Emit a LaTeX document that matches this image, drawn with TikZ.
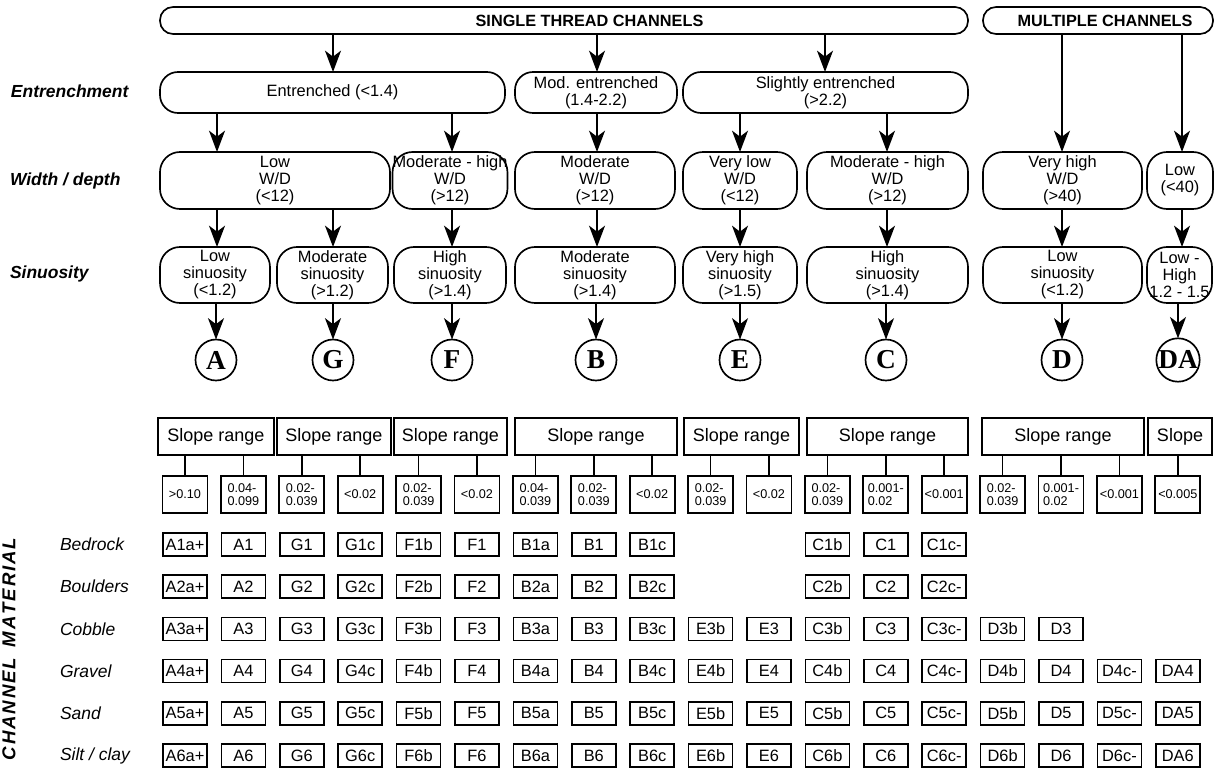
\documentclass[tikz,border=0pt]{standalone}
\usepackage{fontspec}
\setmainfont{Liberation Sans}
\newfontfamily\lserif{Liberation Serif}
\usetikzlibrary{arrows.meta}
\newdimen\px \px=0.75pt
\newcommand\ls{\kern1.4pt}
\newcommand\cellrow[2]{%
  \foreach \i/\txt in {#2}{%
    \node[cellbox] (c#1-\i) at ({185+58.4*\i},{544.5+42.2*(#1-1)}) {\txt};}}
\begin{document}
\begin{tikzpicture}[x=0.75pt,y=-0.75pt,
  every node/.style={inner sep=0pt,outer sep=0pt},
  lw/.style={line width=1.25pt},
  wh/.style 2 args={minimum width=#1\px,minimum height=#2\px},
  barbox/.style={draw,lw,rounded corners=13\px,minimum height=27\px},
  bartext/.style={font=\bfseries\fontsize{12.2pt}{13pt}\selectfont},
  fbox/.style={draw,lw,rounded corners=20\px,align=center,font=\fontsize{12.3pt}{12.75pt}\selectfont},
  circ/.style={draw,lw,circle,minimum size=41\px,font=\lserif\bfseries\fontsize{20.5pt}{20.5pt}\selectfont},
  slopebox/.style={draw,lw,minimum height=37\px,font=\fontsize{13.5pt}{14pt}\selectfont},
  valbox/.style={draw,lw,minimum width=45\px,minimum height=37\px,align=left,font=\fontsize{9.5pt}{9.4pt}\selectfont},
  cellbox/.style={draw,lw,minimum width=44\px,minimum height=23\px,font=\fontsize{12.3pt}{12.3pt}\selectfont},
  arr/.style={lw,-{Stealth[length=16pt,width=12pt,inset=4.5pt]}},
  conn/.style={lw},
  side/.style={anchor=west,font=\bfseries\itshape\fontsize{13.1pt}{14pt}\selectfont},
  mat/.style={anchor=west,font=\itshape\fontsize{13.1pt}{14pt}\selectfont}
]
\fill[white] (0,0) rectangle (1216,767);
\useasboundingbox (0,0) rectangle (1216,767);

% top bars
\node[barbox,minimum width=808\px] (single) at (564,20.5) {};
\node[bartext] (singletxt) at (589.5,20.5) {SINGLE THREAD CHANNELS};
\node[barbox,minimum width=230\px] (multi) at (1098,20.5) {};
\node[bartext] (multitxt) at (1105,20.5) {MULTIPLE CHANNELS};

% side labels
\node[side] (lab1) at (11,91) {Entrenchment};
\node[side] (lab2) at (10,181) {Width / depth};
\node[side] (lab3) at (10,274) {Sinuosity};

% entrenchment row
\node[fbox,rounded corners=18\px,wh={345}{41}] (ent) at (332.5,92.5) {Entrenched (<1.4)};
\node[fbox,rounded corners=18\px,wh={162}{41}] (mod) at (596,92.5) {Mod. entrenched\\(1.4-2.2)};
\node[fbox,rounded corners=18\px,wh={285}{41}] (sli) at (825.5,92.5) {Slightly entrenched\\(>2.2)};

% width/depth row
\node[fbox,wh={230}{57}] (wdA) at (275,180.5) {Low\\W/D\\(<12)};
\node[fbox,wh={110}{57}] (wdF) at (450,180.5) {Moderate - high\\W/D\\(>12)};
\node[fbox,wh={160}{57}] (wdB) at (595,180.5) {Moderate\\W/D\\(>12)};
\node[fbox,wh={114}{57}] (wdE) at (740,180.5) {Very low\\W/D\\(<12)};
\node[fbox,wh={161}{57}] (wdC) at (887.5,180.5) {Moderate - high\\W/D\\(>12)};
\node[fbox,wh={159}{57}] (wdD) at (1062.5,180.5) {Very high\\W/D\\(>40)};
\node[fbox,wh={66}{57}] (wdDA) at (1180,180.5) {Low\\(<40)};

% sinuosity row
\node[fbox,wh={110}{56}] (sA) at (215,275) {Low\\sinuosity\\(<1.2)};
\node[fbox,wh={111}{56}] (sG) at (332.5,275) {Moderate\\sinuosity\\(>1.2)};
\node[fbox,wh={112}{56}] (sF) at (450,275) {High\\sinuosity\\(>1.4)};
\node[fbox,wh={160}{56}] (sB) at (595,275) {Moderate\\sinuosity\\(>1.4)};
\node[fbox,wh={114}{56}] (sE) at (740,275) {Very high\\sinuosity\\(>1.5)};
\node[fbox,wh={161}{56}] (sC) at (887.5,275) {High\\sinuosity\\(>1.4)};
\node[fbox,wh={159}{56}] (sD) at (1062.5,275) {Low\\sinuosity\\(<1.2)};
\node[fbox,wh={65}{56}] (sDA) at (1179.5,275) {Low -\\High\\1.2 - 1.5};

% circles
\node[circ] (kA) at (216,360) {A};
\node[circ] (kG) at (333,360) {G};
\node[circ] (kF) at (452,360) {F};
\node[circ] (kB) at (596,360) {B};
\node[circ] (kE) at (740,360) {E};
\node[circ] (kC) at (886,360) {C};
\node[circ] (kD) at (1062,360) {D};
\node[circ] (kDA) at (1178,360) {DA};

% arrow columns
\coordinate (x1) at (217,0);
\coordinate (x2) at (333,0);
\coordinate (x3) at (452,0);
\coordinate (x4) at (597,0);
\coordinate (x5) at (740,0);
\coordinate (x6) at (825,0);
\coordinate (x7) at (887,0);
\coordinate (x8) at (1062,0);
\coordinate (x9) at (1182,0);

\draw[arr] (single.south -| x2) -- (ent.north -| x2);
\draw[arr] (single.south -| x4) -- (mod.north -| x4);
\draw[arr] (single.south -| x6) -- (sli.north -| x6);
\draw[arr] (multi.south -| x8) -- (wdD.north -| x8);
\draw[arr] (multi.south -| x9) -- (wdDA.north -| x9);

\draw[arr] (ent.south -| x1) -- (wdA.north -| x1);
\draw[arr] (ent.south -| x3) -- (wdF.north -| x3);
\draw[arr] (mod.south -| x4) -- (wdB.north -| x4);
\draw[arr] (sli.south -| x5) -- (wdE.north -| x5);
\draw[arr] (sli.south -| x7) -- (wdC.north -| x7);

\draw[arr] (wdA.south -| x1) -- (sA.north -| x1);
\draw[arr] (wdA.south -| x2) -- (sG.north -| x2);
\draw[arr] (wdF.south -| x3) -- (sF.north -| x3);
\draw[arr] (wdB.south -| x4) -- (sB.north -| x4);
\draw[arr] (wdE.south -| x5) -- (sE.north -| x5);
\draw[arr] (wdC.south -| x7) -- (sC.north -| x7);
\draw[arr] (wdD.south -| x8) -- (sD.north -| x8);
\draw[arr] (wdDA.south -| x9) -- (sDA.north -| x9);

\draw[arr] (sA.south -| kA) -- (kA.north);
\draw[arr] (sG.south -| kG) -- (kG.north);
\draw[arr] (sF.south -| kF) -- (kF.north);
\draw[arr] (sB.south -| kB) -- (kB.north);
\draw[arr] (sE.south -| kE) -- (kE.north);
\draw[arr] (sC.south -| kC) -- (kC.north);
\draw[arr] (sD.south -| kD) -- (kD.north);
\draw[arr] (sDA.south -| kDA) -- (kDA.north);

% slope range boxes
\node[slopebox,minimum width=116\px] (slA) at (216,436.5) {Slope range};
\node[slopebox,minimum width=114\px] (slG) at (334,436.5) {Slope range};
\node[slopebox,minimum width=113\px] (slF) at (450.5,436.5) {Slope range};
\node[slopebox,minimum width=162\px] (slB) at (596,436.5) {Slope range};
\node[slopebox,minimum width=115\px] (slE) at (741.5,436.5) {Slope range};
\node[slopebox,minimum width=161\px] (slC) at (887.5,436.5) {Slope range};
\node[slopebox,minimum width=162\px] (slD) at (1063,436.5) {Slope range};
\node[slopebox,minimum width=64\px] (slDA) at (1180,436.5) {Slope};

% slope values
\foreach \i/\txt in {0/{>0.10},1/{0.04-\\0.099},2/{0.02-\\0.039},3/{<0.02},
  4/{0.02-\\0.039},5/{<0.02},6/{0.04-\\0.039},7/{0.02-\\0.039},8/{<0.02},
  9/{0.02-\\0.039},10/{<0.02},11/{0.02-\\0.039},12/{0.001-\\0.02},13/{<0.001},
  14/{0.02-\\0.039},15/{0.001-\\0.02},16/{<0.001},17/{<0.005}}{
  \node[valbox] (v\i) at ({185+58.4*\i},494.5) {\txt};}

\foreach \s/\i in {slA/0,slA/1,slG/2,slG/3,slF/4,slF/5,slB/6,slB/7,slB/8,
  slE/9,slE/10,slC/11,slC/12,slC/13,slD/14,slD/15,slD/16,slDA/17}{
  \draw[conn] (\s.south -| v\i.north) -- (v\i.north);}

% channel material
\node[rotate=90,font=\bfseries\itshape\fontsize{14pt}{14pt}\selectfont] (chmat) at (9,649)
  {C\ls H\ls A\ls N\ls N\ls E\ls L\hspace{8pt}M\ls A\ls T\ls E\ls R\ls I\ls A\ls L};
\node[mat] (mBed) at (60,544.5) {Bedrock};
\node[mat] (mBou) at (60,586.7) {Boulders};
\node[mat] (mCob) at (60,628.9) {Cobble};
\node[mat] (mGra) at (60,671.1) {Gravel};
\node[mat] (mSan) at (60,713.3) {Sand};
\node[mat] (mSil) at (60,755.5) {Silt / clay};

% grid
\cellrow{1}{0/A1a+,1/A1,2/G1,3/G1c,4/F1b,5/F1,6/B1a,7/B1,8/B1c,11/C1b,12/C1,13/C1c-}
\cellrow{2}{0/A2a+,1/A2,2/G2,3/G2c,4/F2b,5/F2,6/B2a,7/B2,8/B2c,11/C2b,12/C2,13/C2c-}
\cellrow{3}{0/A3a+,1/A3,2/G3,3/G3c,4/F3b,5/F3,6/B3a,7/B3,8/B3c,9/E3b,10/E3,11/C3b,12/C3,13/C3c-,14/D3b,15/D3}
\cellrow{4}{0/A4a+,1/A4,2/G4,3/G4c,4/F4b,5/F4,6/B4a,7/B4,8/B4c,9/E4b,10/E4,11/C4b,12/C4,13/C4c-,14/D4b,15/D4,16/D4c-,17/DA4}
\cellrow{5}{0/A5a+,1/A5,2/G5,3/G5c,4/F5b,5/F5,6/B5a,7/B5,8/B5c,9/E5b,10/E5,11/C5b,12/C5,13/C5c-,14/D5b,15/D5,16/D5c-,17/DA5}
\cellrow{6}{0/A6a+,1/A6,2/G6,3/G6c,4/F6b,5/F6,6/B6a,7/B6,8/B6c,9/E6b,10/E6,11/C6b,12/C6,13/C6c-,14/D6b,15/D6,16/D6c-,17/DA6}
\end{tikzpicture}
\end{document}
